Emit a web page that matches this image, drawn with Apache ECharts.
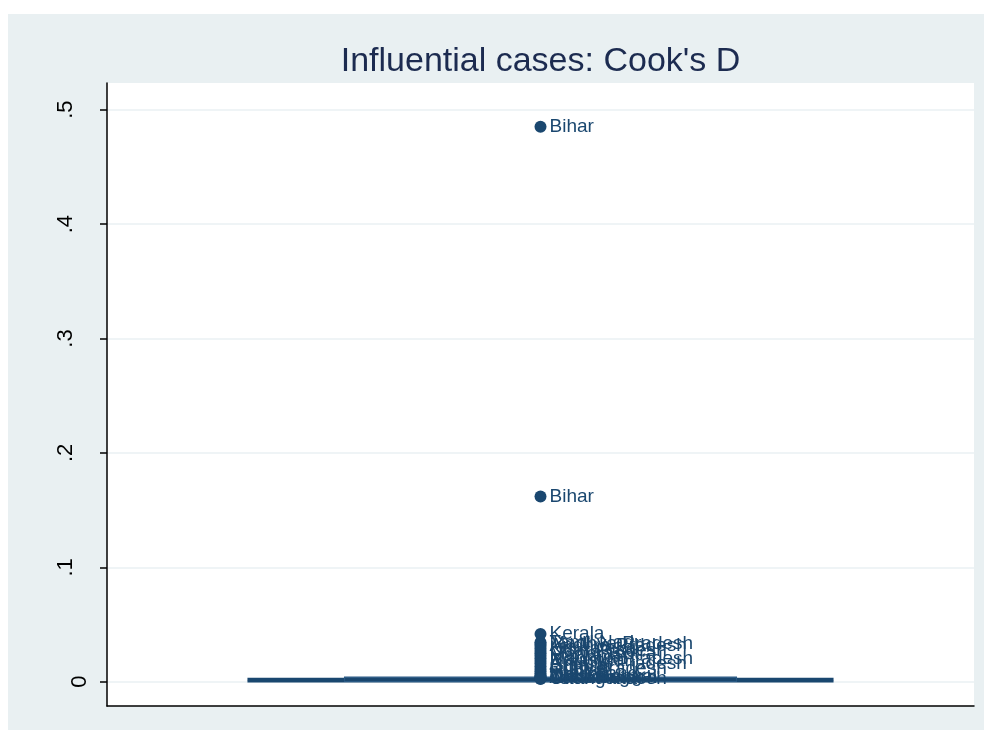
<!DOCTYPE html>
<html>
<head>
<meta charset="utf-8">
<script src="https://cdn.jsdelivr.net/npm/echarts@6/dist/echarts.min.js"></script>
<style>
  html, body { margin: 0; padding: 0; background: #ffffff; }
  #wrap { position: relative; width: 984px; height: 731px; }
  #bg { position: absolute; left: 8px; top: 14px; width: 976px; height: 716px; background: #e9f0f2; }
  #chart { position: absolute; left: 0; top: 0; width: 984px; height: 731px; }
</style>
</head>
<body>
<div id="wrap"><div id="bg"></div><div id="chart"></div></div>
<script>
// ---- data ----
const titleText = "Influential cases: Cook's D";
const categories = ['cooksd'];
// box statistics: lower adjacent, q1, median, q3, upper adjacent
const boxLow = [0.0004];
const boxQ1 = [0.0002];
const boxMedian = [0.0012];
const boxQ3 = [0.0040];
const boxHigh = [0.0024];
// outside values with their labels
const outlierNames = [
  'Bihar', 'Bihar', 'Kerala', 'Tamil Nadu', 'Madhya Pradesh', 'Andhra Pradesh',
  'Karnataka', 'Uttar Pradesh', 'Maharashtra', 'Haryana', 'Madhya Pradesh',
  'Rajasthan', 'Andhra Pradesh', 'Gujarat', 'Uttar Pradesh', 'Punjab', 'Jharkhand',
  'Odisha', 'West Bengal', 'Assam', 'Chhattisgarh', 'Telangana', 'Uttar Pradesh'
];
const outlierValues = [
  0.485, 0.162, 0.0418, 0.0345, 0.0330, 0.0312,
  0.0290, 0.0268, 0.0248, 0.0228, 0.0205,
  0.0182, 0.0160, 0.0136, 0.0112, 0.0092, 0.0072,
  0.0056, 0.0045, 0.0038, 0.0032, 0.0028, 0.0025
];
const yTicks = [0, 0.1, 0.2, 0.3, 0.4, 0.5];

// ---- chart ----
const navy = '#1a476f';
const boxData = categories.map((c, i) => [i, boxLow[i], boxQ1[i], boxMedian[i], boxQ3[i], boxHigh[i]]);
const outData = outlierValues.map((v, i) => ({ value: [0, v], name: outlierNames[i] }));

const chart = echarts.init(document.getElementById('chart'), null, { renderer: 'canvas' });
chart.setOption({
  animation: false,
  backgroundColor: 'transparent',
  graphic: [{
    type: 'text', x: 540.5, y: 62,
    style: { text: titleText, font: '34px "Liberation Sans", Arial, sans-serif', fill: '#1c2b50', textAlign: 'center', textVerticalAlign: 'middle' }
  }],
  grid: { left: 107, right: 10, top: 83, bottom: 25, show: true, backgroundColor: '#ffffff', borderWidth: 0 },
  xAxis: {
    type: 'category', data: categories,
    axisLine: { show: true, onZero: false, lineStyle: { color: '#000', width: 1.5 } },
    axisTick: { show: false }, axisLabel: { show: false }, splitLine: { show: false }
  },
  yAxis: {
    type: 'value', min: -0.0212, max: 0.5233,
    axisLine: { show: true, lineStyle: { color: '#000', width: 1.5 } },
    axisTick: { show: true, length: 7, customValues: yTicks, lineStyle: { color: '#000', width: 1.5 } },
    splitLine: { show: true, lineStyle: { color: '#eaf1f3', width: 1.5 } },
    axisLabel: {
      customValues: yTicks, rotate: 90, margin: 16, color: '#000',
      fontFamily: '"Liberation Sans", Arial, sans-serif', fontSize: 22,
      formatter: v => v === 0 ? '{z|0}' : '{n|' + String(v).replace(/^0\./, '.') + '}',
      rich: {
        z: { fontSize: 22, color: '#000', fontFamily: '"Liberation Sans", Arial, sans-serif' },
        n: { fontSize: 22, color: '#000', fontFamily: '"Liberation Sans", Arial, sans-serif', padding: [0, 0, 14, 0] }
      }
    }
  },
  series: [
    {
      type: 'custom',
      data: boxData,
      encode: { x: 0, y: [1, 2, 3, 4, 5] },
      z: 2,
      renderItem: function (params, api) {
        const cat = api.value(0);
        const band = api.size([1, 0])[0];
        const pLow = api.coord([cat, api.value(1)]);
        const pQ1 = api.coord([cat, api.value(2)]);
        const pMed = api.coord([cat, api.value(3)]);
        const pQ3 = api.coord([cat, api.value(4)]);
        const pHigh = api.coord([cat, api.value(5)]);
        const cx = pMed[0];
        const boxHalf = band * 0.226;
        const capHalf = band * 0.338;
        const ls = { stroke: navy, lineWidth: 2.5 };
        return {
          type: 'group',
          children: [
            { type: 'line', shape: { x1: cx - capHalf, y1: pLow[1], x2: cx + capHalf, y2: pLow[1] }, style: ls },
            { type: 'line', shape: { x1: cx - capHalf, y1: pHigh[1], x2: cx + capHalf, y2: pHigh[1] }, style: ls },
            { type: 'rect', shape: { x: cx - boxHalf, y: pQ3[1], width: boxHalf * 2, height: pQ1[1] - pQ3[1] },
              style: { fill: navy, stroke: '#2a5a85', lineWidth: 1.2 } },
            { type: 'line', shape: { x1: cx - boxHalf, y1: pMed[1], x2: cx + boxHalf, y2: pMed[1] }, style: { stroke: navy, lineWidth: 1 } }
          ]
        };
      }
    },
    {
      type: 'scatter',
      data: outData,
      symbol: 'circle', symbolSize: 12, z: 3,
      itemStyle: { color: navy, opacity: 1 },
      label: {
        show: true, position: 'right', distance: 3,
        formatter: p => p.name, color: navy,
        fontFamily: '"Liberation Sans", Arial, sans-serif', fontSize: 19
      },
      labelLayout: { hideOverlap: false }
    }
  ]
});
</script>
</body>
</html>
